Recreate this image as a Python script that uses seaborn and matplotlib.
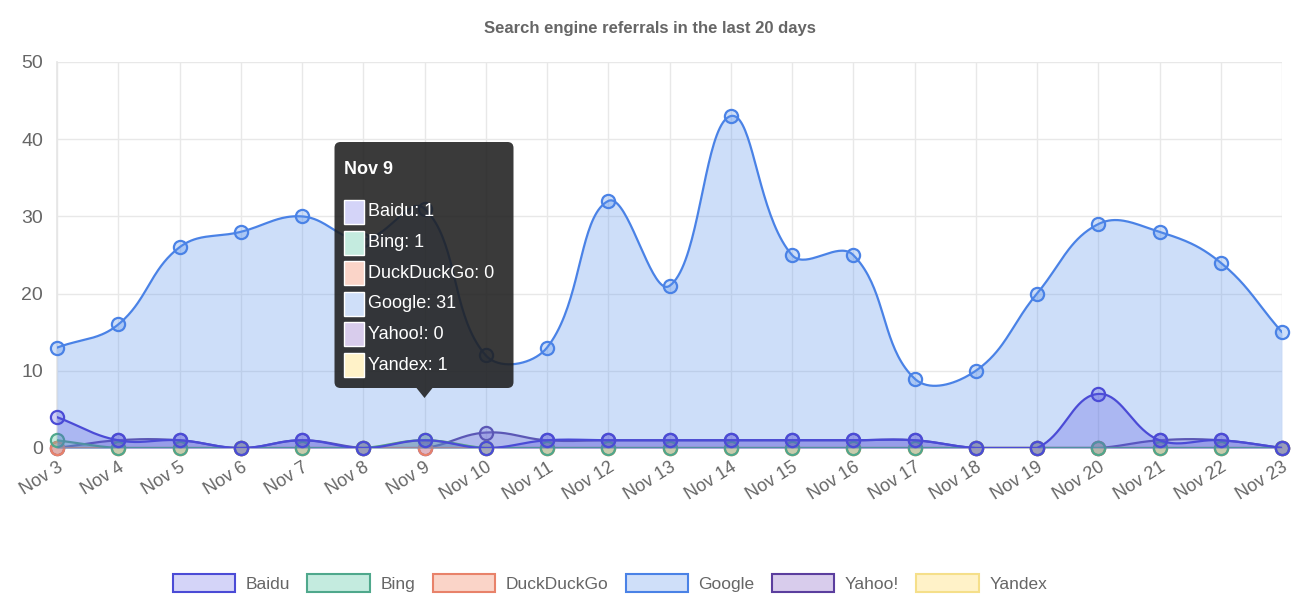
import numpy as np
import matplotlib
matplotlib.use("Agg")
import matplotlib.pyplot as plt
import seaborn as sns
from matplotlib.patches import FancyBboxPatch, Polygon, Rectangle, Patch
from matplotlib.transforms import Affine2D

days = ["Nov 3", "Nov 4", "Nov 5", "Nov 6", "Nov 7", "Nov 8", "Nov 9", "Nov 10", "Nov 11",
        "Nov 12", "Nov 13", "Nov 14", "Nov 15", "Nov 16", "Nov 17", "Nov 18", "Nov 19",
        "Nov 20", "Nov 21", "Nov 22", "Nov 23"]
baidu = [4, 1, 1, 0, 1, 0, 1, 0, 1, 1, 1, 1, 1, 1, 1, 0, 0, 7, 1, 1, 0]
bing = [1, 0, 0, 0, 0, 0, 1, 0, 0, 0, 0, 0, 0, 0, 0, 0, 0, 0, 0, 0, 0]
duckduckgo = [0] * 21
google = [13, 16, 26, 28, 30, 27, 31, 12, 13, 32, 21, 43, 25, 25, 9, 10, 20, 29, 28, 24, 15]
yahoo = [0, 1, 1, 0, 1, 0, 0, 2, 1, 1, 1, 1, 1, 1, 1, 0, 0, 0, 1, 1, 0]
yandex = [0, 0, 0, 0, 0, 0, 1, 0, 0, 0, 0, 0, 0, 0, 0, 0, 0, 0, 0, 0, 0]

names = ["Baidu", "Bing", "DuckDuckGo", "Google", "Yahoo!", "Yandex"]
series = [baidu, bing, duckduckgo, google, yahoo, yandex]
borders = ["#4b4bd6", "#4fa88c", "#e8826a", "#4a82e6", "#5b3e9e", "#f5df8a"]
fills = [(0.33, 0.33, 0.88, 0.28), (0.40, 0.78, 0.66, 0.35), (0.96, 0.55, 0.45, 0.35),
         (0.36, 0.58, 0.93, 0.30), (0.55, 0.42, 0.80, 0.35), (1.0, 0.90, 0.55, 0.40)]
legend_fills = ["#d4d4f8", "#c4ebdf", "#fad4c8", "#cfdff9", "#d8ccec", "#fff2c8"]

W, H = 1296, 609
sns.set_theme(style="whitegrid")
plt.rcParams["font.family"] = ["Liberation Sans", "DejaVu Sans"]

fig = plt.figure(figsize=(W / 100, H / 100), dpi=100)
ax = fig.add_axes([57 / W, 1 - 448 / H, (1282 - 57) / W, (448 - 62) / H])
ax.set_xlim(0, len(days) - 1)
ax.set_ylim(0, 50)

sx = (1282 - 57) / (len(days) - 1)
sy = (448 - 62) / 50.0


def spline(vals, t=0.4, n=40):
    xs = np.arange(len(vals)) * sx
    ys = np.array(vals, float) * sy
    N = len(vals)
    cpp, cpn = [], []
    for i in range(N):
        p0 = np.array([xs[max(i - 1, 0)], ys[max(i - 1, 0)]])
        p1 = np.array([xs[i], ys[i]])
        p2 = np.array([xs[min(i + 1, N - 1)], ys[min(i + 1, N - 1)]])
        d01 = np.hypot(*(p1 - p0))
        d12 = np.hypot(*(p2 - p1))
        tot = d01 + d12
        s01 = d01 / tot if tot else 0
        s12 = d12 / tot if tot else 0
        fa, fb = t * s01, t * s12
        a = p1 - fa * (p2 - p0)
        b = p1 + fb * (p2 - p0)
        a[1] = np.clip(a[1], 0, 50 * sy)
        b[1] = np.clip(b[1], 0, 50 * sy)
        cpp.append(a)
        cpn.append(b)
    X, Y = [], []
    tt = np.linspace(0, 1, n)
    for i in range(N - 1):
        P0 = np.array([xs[i], ys[i]])
        P3 = np.array([xs[i + 1], ys[i + 1]])
        P1, P2 = cpn[i], cpp[i + 1]
        pts = ((1 - tt)[:, None] ** 3 * P0 + 3 * ((1 - tt) ** 2 * tt)[:, None] * P1
               + 3 * ((1 - tt) * tt ** 2)[:, None] * P2 + (tt ** 3)[:, None] * P3)
        X.append(pts[:, 0])
        Y.append(pts[:, 1])
    return np.concatenate(X) / sx, np.concatenate(Y) / sy


# draw in reverse (first dataset on top)
for k in range(len(series) - 1, -1, -1):
    vals = series[k]
    z = 2 + (len(series) - k)
    cx, cy = spline(vals)
    ax.fill_between(cx, cy, 0, color=fills[k], lw=0, zorder=z)
    ax.plot(cx, cy, color=borders[k], lw=1.6, zorder=z + 0.1)
    sns.scatterplot(x=np.arange(len(vals)), y=vals, ax=ax, s=90, color=fills[k],
                    edgecolor=borders[k], linewidth=1.6, zorder=z + 0.2, legend=False,
                    clip_on=False)

ax.set_xticks(np.arange(len(days)))
ax.set_xticklabels(days, rotation=32, ha="right", rotation_mode="anchor",
                   fontsize=13, color="#666666")
ax.set_yticks(np.arange(0, 51, 10))
ax.set_yticklabels([str(v) for v in range(0, 51, 10)], fontsize=14, color="#666666")
ax.tick_params(axis="both", length=6, color="#e6e6e6", width=1, pad=4)
ax.tick_params(axis="x", pad=2)
ax.grid(True, color="#e8e8e8", lw=1)
for s in ["top", "right"]:
    ax.spines[s].set_visible(False)
ax.spines["left"].set_color("#e6e6e6")
ax.spines["bottom"].set_color("#c8c8c8")
ax.set_facecolor("white")
ax.set_xlabel("")
ax.set_ylabel("")

fig.text(650 / W, 1 - 28 / H, "Search engine referrals in the last 20 days",
         ha="center", va="center", fontsize=12, fontweight="bold", color="#666666")

handles = [Patch(facecolor=legend_fills[i], edgecolor=borders[i], lw=1.5, label=names[i])
           for i in range(len(names))]
fig.legend(handles=handles, loc="center", bbox_to_anchor=(610 / W, 1 - 583 / H), ncol=6,
           frameon=False, fontsize=12.5, handlelength=3.6, handleheight=1.3,
           columnspacing=1.0, handletextpad=0.6, labelcolor="#666666")

# tooltip at Nov 9
ti = days.index("Nov 9")
fig.canvas.draw()
pix = Affine2D().scale(1 / W, 1 / H) + fig.transFigure
tipx, _ = ax.transData.transform((ti, 0))
tipy = H - 398
bw, bh = 179, 246
bx0 = tipx - 90
by0 = tipy + 10
box = FancyBboxPatch((bx0 + 6, by0 + 6), bw - 12, bh - 12,
                     boxstyle="round,pad=6", transform=pix, facecolor="#1e1e1e",
                     edgecolor="none", alpha=0.88, zorder=20)
fig.patches.append(box)
arrow = Polygon([[tipx - 8, by0], [tipx + 8, by0], [tipx, tipy]], closed=True,
                transform=pix, facecolor="#1e1e1e", edgecolor="none", alpha=0.88, zorder=20)
fig.patches.append(arrow)
fig.text((bx0 + 10) / W, (by0 + bh - 28) / H, days[ti], transform=fig.transFigure,
         fontsize=13, fontweight="bold", color="white", va="center", ha="left", zorder=21)
for j, nm in enumerate(names):
    yc = by0 + bh - 70 - j * 30.6
    sw = Rectangle((bx0 + 9, yc - 12), 20, 24, transform=pix, facecolor=legend_fills[j],
                   edgecolor="white", lw=1, zorder=21)
    fig.patches.append(sw)
    fig.text((bx0 + 33) / W, yc / H, f"{nm}: {series[j][ti]}", fontsize=13,
             color="white", va="center", ha="left", zorder=21)

fig.savefig("out.png", dpi=100, facecolor="white")
